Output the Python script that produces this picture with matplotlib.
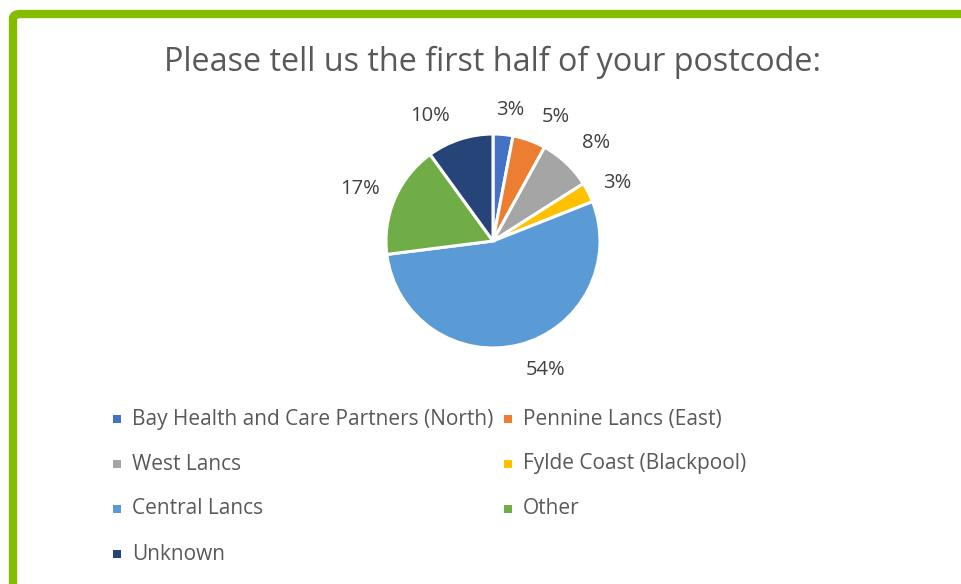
import numpy as np
import matplotlib.pyplot as plt
from matplotlib.patches import FancyBboxPatch, Rectangle

plt.rcParams['font.family'] = ['Open Sans', 'DejaVu Sans']

# postcode areas and their share of responses (%)
areas = ["Bay Health and Care Partners (North)", "Pennine Lancs (East)", "West Lancs",
         "Fylde Coast (Blackpool)", "Central Lancs", "Other", "Unknown"]
shares = [3, 5, 8, 3, 54, 17, 10]
colors = ["#4472C4", "#ED7D31", "#A5A5A5", "#FFC000", "#5B9BD5", "#70AD47", "#264478"]

# data label placement: distance from centre (in radii) and angular nudge (deg)
lbl_dist = [1.235, 1.30, 1.33, 1.28, 1.30, 1.33, 1.31]
lbl_nudge = [-2, -7, -3, -2, 7.6, 2, 8.7]

W, H = 962, 584
fig = plt.figure(figsize=(W / 100, H / 100), dpi=100)

# green frame (top and left edges visible)
frame = FancyBboxPatch((13 / W, -0.2), 1.2, (H - 14) / H + 0.2,
                       boxstyle="round,pad=0,rounding_size=0.008",
                       transform=fig.transFigure, facecolor="white",
                       edgecolor="#84BC00", linewidth=6, zorder=-5)
fig.patches.append(frame)

fig.text(493 / W, 1 - 62 / H, "Please tell us the first half of your postcode:",
         ha="center", va="center", fontsize=23.3, color="#595959")

# pie
cx, cy, r = 493, 241, 107
ax = fig.add_axes([(cx - r) / W, (H - cy - r) / H, 2 * r / W, 2 * r / H], zorder=2)
wedges, _ = ax.pie(shares, colors=colors, startangle=90, counterclock=False,
                   wedgeprops=dict(edgecolor="white", linewidth=2.2))
for w, v, d, n in zip(wedges, shares, lbl_dist, lbl_nudge):
    mid = np.deg2rad((w.theta1 + w.theta2) / 2 + n)
    ax.text(d * np.cos(mid), d * np.sin(mid), f"{v}%", ha="center", va="center",
            fontsize=14.5, color="#404040")
ax.set_xlim(-1, 1)
ax.set_ylim(-1, 1)
ax.set_aspect("equal")
ax.axis("off")

# legend, two columns
col_x = [117, 508]
row_y = [419, 464, 509, 554]
for i, (name, c) in enumerate(zip(areas, colors)):
    x = col_x[i % 2]
    y = row_y[i // 2]
    fig.patches.append(Rectangle(((x - 4) / W, 1 - (y + 4) / H), 8 / W, 8 / H,
                                 transform=fig.transFigure, facecolor=c, edgecolor="none"))
    fig.text((x + 15) / W, 1 - y / H, name, ha="left", va="center",
             fontsize=15, color="#595959")

fig.savefig("out.png", dpi=100)
